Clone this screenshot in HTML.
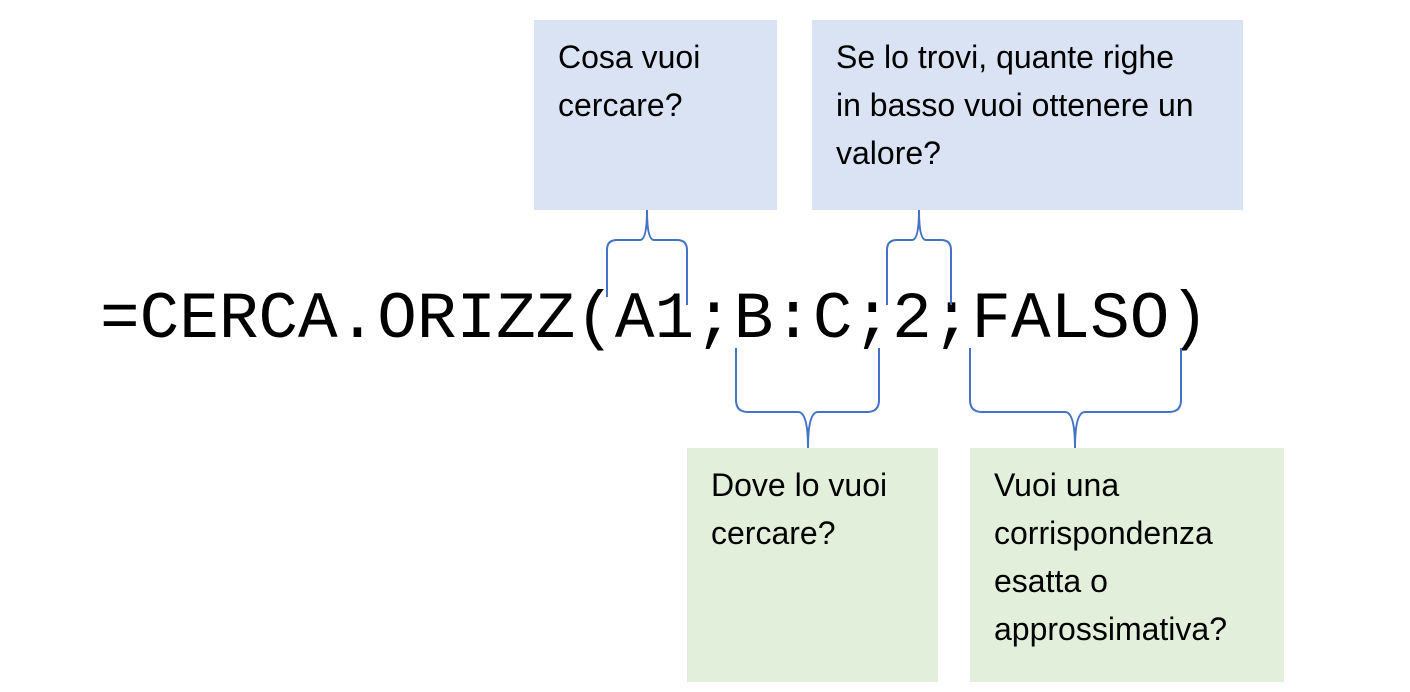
<!DOCTYPE html>
<html><head><meta charset="utf-8"><style>
html,body{margin:0;padding:0;background:#fff;}
body{width:1410px;height:692px;position:relative;overflow:hidden;}
.box{position:absolute;box-sizing:border-box;padding:13px 0 0 24px;font-family:"Liberation Sans",sans-serif;font-size:32px;line-height:48px;color:#000;}
.b{background:#dae3f3;}
.g{background:#e2efda;}
.f{position:absolute;left:100px;top:282px;font-family:"Liberation Mono",monospace;font-size:66px;line-height:76px;white-space:pre;color:#000;}
svg{position:absolute;left:0;top:0;}
</style></head><body>
<div class="box b" style="left:534px;top:20px;width:243px;height:190px;">Cosa vuoi<br>cercare?</div>
<div class="box b" style="left:812px;top:20px;width:431px;height:190px;">Se lo trovi, quante righe<br>in basso vuoi ottenere un<br>valore?</div>
<div class="box g" style="left:687px;top:448px;width:251px;height:234px;">Dove lo vuoi<br>cercare?</div>
<div class="box g" style="left:970px;top:448px;width:314px;height:234px;">Vuoi una<br>corrispondenza<br>esatta o<br>approssimativa?</div>
<div class="f">=CERCA.ORIZZ(A1;B:C;2;FALSO)</div>
<svg width="1410" height="692" fill="none" stroke="#4472c4" stroke-width="2">
<path d="M607 297 L607 250 Q607 240 617 240 L640 240 Q647 240 647 210 Q647 240 654 240 L677 240 Q687 240 687 250 L687 305"/>
<path d="M887 305 L887 250 Q887 240 897 240 L912 240 Q919 240 919 210 Q919 240 926 240 L941 240 Q951 240 951 250 L951 305"/>
<path d="M736 348 L736 400 Q736 412 748 412 L798 412 Q808 412 808 448 Q808 412 818 412 L867 412 Q879 412 879 400 L879 348"/>
<path d="M970 348 L970 400 Q970 412 982 412 L1065 412 Q1075 412 1075 448 Q1075 412 1085 412 L1169 412 Q1181 412 1181 400 L1181 348"/>
</svg>
</body></html>
